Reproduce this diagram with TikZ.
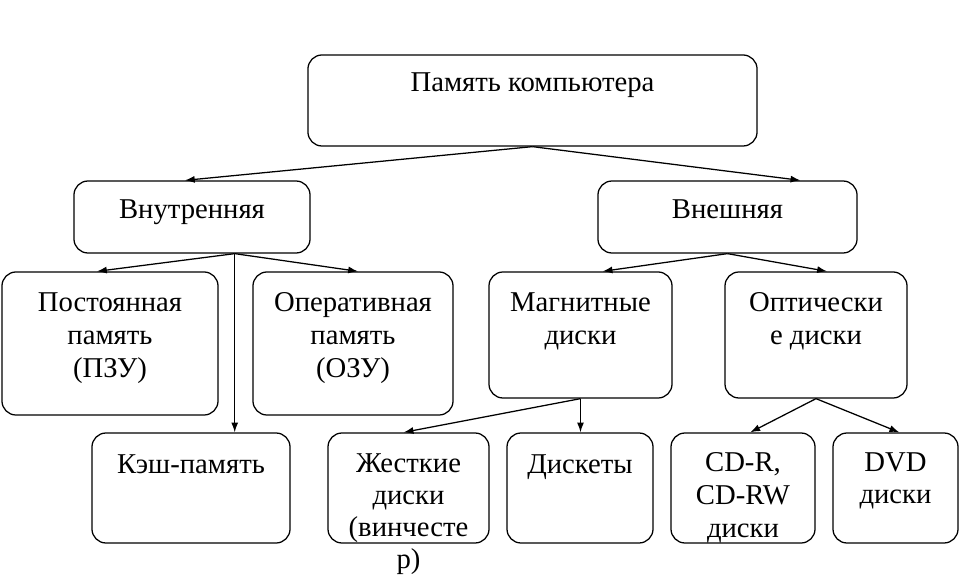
\documentclass[tikz,border=0pt]{standalone}
\usepackage{fontspec}
\setmainfont{Liberation Serif}
\usetikzlibrary{positioning}
\usetikzlibrary{calc}
\usetikzlibrary{arrows.meta}

\tikzset{
  box/.style={draw,line width=0.9pt,rounded corners=10pt,inner sep=0pt},
  txt/.style={inner sep=0pt,align=center},
  link/.style={line width=0.9pt,-{Latex[length=7pt,width=5pt]}},
}

\begin{document}
\begin{tikzpicture}[x=0.025cm,y=-0.025cm,font=\fontsize{20.4}{23.5}\selectfont]
\useasboundingbox[fill=white](0,0) rectangle (960,576);

%% boxes
\node[box,minimum width=11.225cm,minimum height=2.275cm](mem)at(532.5,100.5){};
\node[box,minimum width=5.9cm,minimum height=1.8cm](inner)at(192,217){};
\node[box,minimum width=6.475cm,minimum height=1.8cm](outer)at(727.5,217){};
\node[box,minimum width=5.4cm,minimum height=3.575cm](rom)at(110,343.5){};
\node[box,minimum width=5cm,minimum height=3.575cm](ram)at(353,343.5){};
\node[box,minimum width=4.575cm,minimum height=3.15cm](magn)at(580.5,335){};
\node[box,minimum width=4.55cm,minimum height=3.15cm](optic)at(816,335){};
\node[box,minimum width=4.95cm,minimum height=2.75cm](cache)at(191,488){};
\node[box,minimum width=4.025cm,minimum height=2.75cm](hdd)at(408.5,488){};
\node[box,minimum width=3.65cm,minimum height=2.75cm](fdd)at(580,488){};
\node[box,minimum width=3.6cm,minimum height=2.75cm](cd)at(743,488){};
\node[box,minimum width=3.125cm,minimum height=2.75cm](dvd)at(895.5,488){};

%% texts
\node[txt,below=0.45cm of mem.north](memT){Память компьютера};
\node[txt,below=0.475cm of inner.north](innerT){Внутренняя};
\node[txt,below=0.475cm of outer.north](outerT){Внешняя};
\node[txt,below=0.525cm of rom.north](romT){Постоянная\\память\\(ПЗУ)};
\node[txt,below=0.525cm of ram.north](ramT){Оперативная\\память\\(ОЗУ)};
\node[txt,below=0.525cm of magn.north](magnT){Магнитные\\диски};
\node[txt,below=0.525cm of optic.north](opticT){Оптически\\е диски};
\node[txt,below=0.55cm of cache.north](cacheT){Кэш-память};
\node[txt,below=0.53cm of hdd.north,font=\fontsize{20.4}{22.8}\selectfont](hddT){Жесткие\\диски\\(винчесте\\р)};
\node[txt,below=0.55cm of fdd.north](fddT){Дискеты};
\node[txt,below=0.5cm of cd.north](cdT){CD-R,\\CD-RW\\диски};
\node[txt,below=0.5cm of dvd.north,font=\fontsize{20.4}{22.5}\selectfont](dvdT){DVD\\диски};

%% arrow ends
\coordinate(innerN)at($(inner.north west)!0.47!(inner.north east)$);
\coordinate(outerN)at($(outer.north west)!0.78!(outer.north east)$);
\coordinate(innerS)at($(inner.south west)!0.68!(inner.south east)$);
\coordinate(romN)at($(rom.north west)!0.44!(rom.north east)$);
\coordinate(ramN)at($(ram.north west)!0.525!(ram.north east)$);
\coordinate(magnN)at($(magn.north west)!0.62!(magn.north east)$);
\coordinate(opticN)at($(optic.north west)!0.56!(optic.north east)$);
\coordinate(hddN)at($(hdd.north west)!0.47!(hdd.north east)$);
\coordinate(cdN)at($(cd.north west)!0.55!(cd.north east)$);
\coordinate(dvdN)at($(dvd.north west)!0.53!(dvd.north east)$);

%% arrows
\draw[link](mem.south)--(innerN);
\draw[link](mem.south)--(outerN);
\draw[link](innerS)--(romN);
\draw[link](innerS)--(ramN);
\draw[link](innerS)--(innerS|-cache.north);
\draw[link](outer.south)--(magnN);
\draw[link](outer.south)--(opticN);
\draw[link](magn.south)--(hddN);
\draw[link](magn.south)--(magn.south|-fdd.north);
\draw[link](optic.south)--(cdN);
\draw[link](optic.south)--(dvdN);
\end{tikzpicture}
\end{document}
